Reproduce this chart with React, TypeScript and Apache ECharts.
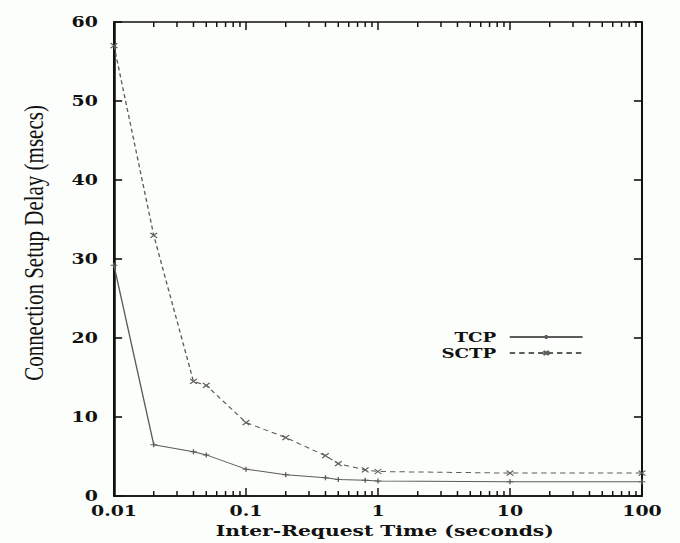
import React, { useEffect, useRef } from "react";
import * as echarts from "echarts";

// ---- data ----
const interRequestTimes = [0.01, 0.02, 0.04, 0.05, 0.1, 0.2, 0.4, 0.5, 0.8, 1, 10, 100];
const tcpDelay = [29.2, 6.5, 5.6, 5.2, 3.4, 2.7, 2.3, 2.1, 2.0, 1.9, 1.8, 1.8];
const sctpDelay = [57, 33, 14.5, 14.0, 9.3, 7.4, 5.1, 4.1, 3.3, 3.1, 2.9, 2.9];
const xMajorTicks = [0.01, 0.1, 1, 10, 100];
const xMinorTicks = [
  0.02, 0.03, 0.04, 0.05, 0.06, 0.07, 0.08, 0.09,
  0.2, 0.3, 0.4, 0.5, 0.6, 0.7, 0.8, 0.9,
  2, 3, 4, 5, 6, 7, 8, 9,
  20, 30, 40, 50, 60, 70, 80, 90,
];
const yTicks = [0, 10, 20, 30, 40, 50, 60];
const seriesNames = ["TCP", "SCTP"];
const xTitle = "Inter-Request Time (seconds)";
const yTitle = "Connection Setup Delay (msecs)";

// ---- layout ----
const PAGE_W = 680;
const PAGE_H = 543;
const STRETCH = 1.35;
const CHART_W = PAGE_W / STRETCH;
const INK = "#111111";
const LINE = "#5c5c5c";
const BOLD_SERIF = "DejaVu Serif";

// tick kinds: [dirX, dirY, length]
const TICK_KINDS: number[][] = [
  [0, -1, 5], // 0 bottom minor (points up)
  [0, 1, 5], // 1 top minor (points down)
  [0, -1, 8], // 2 bottom major
  [0, 1, 8], // 3 top major
  [1, 0, 6], // 4 left major (points right)
  [-1, 0, 6], // 5 right major (points left)
];

export default function App() {
  const ref = useRef<HTMLDivElement | null>(null);

  useEffect(() => {
    if (!ref.current) return;
    const chart = echarts.init(ref.current, undefined, {
      renderer: "svg",
      width: CHART_W,
      height: PAGE_H,
    });

    const xMin = xMajorTicks[0];
    const xMax = xMajorTicks[xMajorTicks.length - 1];
    const yMin = yTicks[0];
    const yMax = yTicks[yTicks.length - 1];
    const yInterval = yTicks[1] - yTicks[0];

    const labelFmt = (v: number) => {
      const m = xMajorTicks.find((t) => Math.abs(Math.log10(t) - Math.log10(v)) < 1e-6);
      return m !== undefined ? String(m) : "";
    };

    const tickLabelStyle = {
      fontFamily: BOLD_SERIF,
      fontWeight: "bold" as const,
      fontSize: 14,
      color: INK,
    };

    // all inward ticks (gnuplot style, mirrored on the four sides) placed via the axis scales
    const tickData: number[][] = [];
    xMinorTicks.forEach((v) => {
      tickData.push([v, yMin, 0]);
      tickData.push([v, yMax, 1]);
    });
    xMajorTicks.forEach((v) => {
      tickData.push([v, yMin, 2]);
      tickData.push([v, yMax, 3]);
    });
    yTicks.forEach((v) => {
      tickData.push([xMin, v, 4]);
      tickData.push([xMax, v, 5]);
    });

    const option: any = {
      animation: false,
      backgroundColor: "#fcfefb",
      grid: {
        left: 114 / STRETCH,
        right: 38 / STRETCH,
        top: 22,
        bottom: 47,
        show: true,
        borderColor: INK,
        borderWidth: 1.5,
        backgroundColor: "transparent",
      },
      legend: {
        data: seriesNames,
        orient: "vertical",
        align: "right",
        right: 96 / STRETCH,
        top: 330,
        padding: 0,
        itemWidth: 54,
        itemHeight: 5,
        itemGap: 2,
        textStyle: {
          fontFamily: BOLD_SERIF,
          fontWeight: "bold",
          fontSize: 13.5,
          lineHeight: 13,
          color: INK,
          padding: [0, 5, 0, 0],
        },
      },
      xAxis: {
        type: "log",
        logBase: 10,
        min: xMin,
        max: xMax,
        position: "bottom",
        axisLine: { show: true, lineStyle: { color: INK, width: 1.5 } },
        splitLine: { show: false },
        axisTick: { show: false },
        axisLabel: { ...tickLabelStyle, margin: 8, formatter: labelFmt },
        name: xTitle,
        nameLocation: "middle",
        nameGap: 23,
        nameTextStyle: {
          fontFamily: BOLD_SERIF,
          fontWeight: "bold",
          fontSize: 15,
          color: INK,
          padding: [0, 0, 0, 10],
        },
      },
      yAxis: {
        type: "value",
        min: yMin,
        max: yMax,
        interval: yInterval,
        position: "left",
        axisLine: { show: true, lineStyle: { color: INK, width: 1.5 } },
        splitLine: { show: false },
        axisTick: { show: false },
        axisLabel: { ...tickLabelStyle, margin: 12 },
      },
      graphic: [
        {
          type: "text",
          x: 33 / STRETCH,
          y: 243,
          rotation: Math.PI / 2,
          style: {
            text: yTitle,
            fontFamily: "Liberation Serif",
            fontSize: 21,
            fill: INK,
            align: "center",
            verticalAlign: "middle",
          },
        },
      ],
      series: [
        {
          name: seriesNames[0],
          type: "line",
          data: interRequestTimes.map((x, i) => [x, tcpDelay[i]]),
          symbol: "path://M0,5L10,5M5,0L5,10",
          symbolSize: 5,
          showAllSymbol: true,
          clip: false,
          lineStyle: { color: LINE, width: 1, type: "solid" },
          itemStyle: { color: LINE, borderColor: LINE, borderWidth: 1 },
        },
        {
          name: seriesNames[1],
          type: "line",
          data: interRequestTimes.map((x, i) => [x, sctpDelay[i]]),
          symbol: "path://M0,0L10,10M10,0L0,10",
          symbolSize: 5,
          showAllSymbol: true,
          clip: false,
          lineStyle: { color: LINE, width: 1, type: [4, 3] },
          itemStyle: { color: LINE, borderColor: LINE, borderWidth: 1 },
        },
        {
          name: "ticks",
          type: "custom",
          silent: true,
          clip: false,
          data: tickData,
          z: 10,
          renderItem: (params: any, api: any) => {
            const pt = api.coord([api.value(0), api.value(1)]);
            const kind = TICK_KINDS[api.value(2)];
            const len = kind[2];
            const vertical = kind[0] === 0;
            const thick = vertical ? 1.1 : 1.6;
            const x = vertical ? pt[0] - thick / 2 : kind[0] > 0 ? pt[0] : pt[0] - len;
            const y = vertical ? (kind[1] > 0 ? pt[1] : pt[1] - len) : pt[1] - thick / 2;
            return {
              type: "rect",
              shape: {
                x,
                y,
                width: vertical ? thick : len,
                height: vertical ? len : thick,
              },
              style: { fill: INK },
            };
          },
        },
      ],
    };

    chart.setOption(option);
    return () => chart.dispose();
  }, []);

  return (
    <div
      style={{
        position: "fixed",
        left: 0,
        top: 0,
        width: PAGE_W,
        height: PAGE_H,
        background: "#fcfefb",
        overflow: "hidden",
      }}
    >
      <div
        ref={ref}
        style={{
          position: "absolute",
          left: 0,
          top: 0,
          width: CHART_W,
          height: PAGE_H,
          transform: `scaleX(${STRETCH})`,
          transformOrigin: "0 0",
        }}
      />
    </div>
  );
}
